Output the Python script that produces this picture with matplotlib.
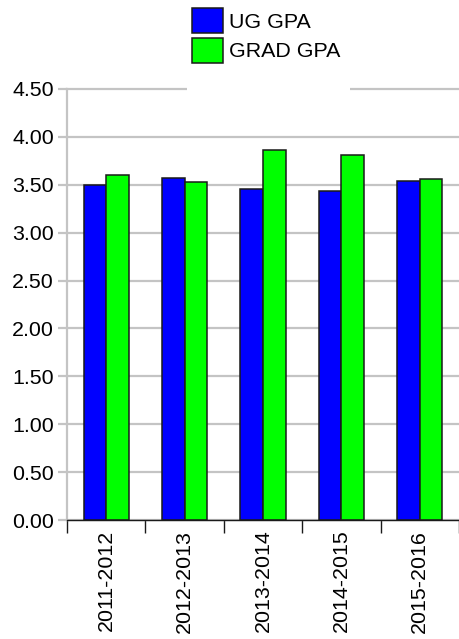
import matplotlib
matplotlib.use('Agg')
import matplotlib.pyplot as plt
from matplotlib.patches import Rectangle
from matplotlib.ticker import FixedLocator, FormatStrFormatter

years = ['2011-2012', '2012-2013', '2013-2014', '2014-2015', '2015-2016']
ug_gpa = [3.50, 3.57, 3.46, 3.43, 3.54]
grad_gpa = [3.60, 3.53, 3.86, 3.81, 3.56]
y_ticks = [0.0, 0.5, 1.0, 1.5, 2.0, 2.5, 3.0, 3.5, 4.0, 4.5]

plt.rcParams['font.family'] = ['Liberation Sans', 'DejaVu Sans']
FS = 15.4
GRID = '#c4c4c4'

fig = plt.figure(figsize=(4.59, 6.39), dpi=100)
ax = fig.add_axes([67 / 459, 119 / 639, 1 - 67 / 459, 431 / 639])

x = list(range(len(years)))
w = 0.287
ax.bar([i - w / 2 for i in x], ug_gpa, w, color='#0000ff', edgecolor='#1a1a1a',
       linewidth=1.1, label='UG GPA', zorder=3)
ax.bar([i + w / 2 for i in x], grad_gpa, w, color='#00ff00', edgecolor='#1a1a1a',
       linewidth=1.1, label='GRAD GPA', zorder=3)

ax.set_xlim(-0.5, len(years) - 0.5)
ax.set_ylim(0, 4.5)
ax.set_yticks(y_ticks)
ax.yaxis.set_major_formatter(FormatStrFormatter('%.2f'))
ax.yaxis.grid(True, color=GRID, linewidth=1.6, zorder=0)
for gl in ax.get_ygridlines():
    gl.set_clip_on(False)
ax.set_axisbelow(True)

ax.set_xticks(x)
ax.set_xticklabels(years, rotation=90, fontsize=FS)
ax.xaxis.set_minor_locator(FixedLocator([i - 0.5 for i in range(len(years) + 1)]))
ax.tick_params(axis='x', which='major', length=0, pad=7)
ax.tick_params(axis='x', which='minor', length=9.3, width=1.0, color='#1a1a1a')
ax.tick_params(axis='y', which='major', length=6.5, width=1.6, color=GRID,
               labelsize=FS, pad=3)

for s in ['top', 'right']:
    ax.spines[s].set_visible(False)
ax.spines['left'].set_color(GRID)
ax.spines['left'].set_linewidth(1.6)
ax.spines['bottom'].set_color('#1a1a1a')
ax.spines['bottom'].set_linewidth(1.0)
ax.spines['bottom'].set_zorder(4)

# white legend box covering the top gridline
fig.patches.append(Rectangle((187 / 459, 1 - 91 / 639), 163 / 459, 91 / 639,
                             transform=fig.transFigure, facecolor='white',
                             edgecolor='none', zorder=5))
leg = fig.legend(loc='upper left', bbox_to_anchor=(192 / 459, 1 - 8 / 639),
                 frameon=False, fontsize=FS, handlelength=1.45, handleheight=1.45,
                 labelspacing=0.2, handletextpad=0.3, borderpad=0, borderaxespad=0)
leg.set_zorder(6)

fig.savefig('out.png', dpi=100)
